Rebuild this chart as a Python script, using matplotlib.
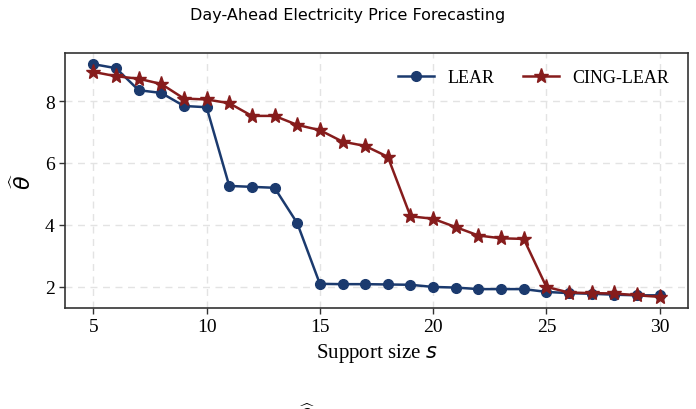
import matplotlib
matplotlib.use("Agg")
import matplotlib.pyplot as plt

support = list(range(5, 31))
lear = [9.19, 9.06, 8.35, 8.26, 7.84, 7.80, 5.26, 5.23, 5.20, 4.06,
        2.10, 2.09, 2.09, 2.08, 2.07, 2.00, 1.98, 1.93, 1.93, 1.93,
        1.84, 1.80, 1.78, 1.75, 1.73, 1.73]
cing_lear = [8.94, 8.80, 8.72, 8.55, 8.08, 8.05, 7.93, 7.52, 7.52, 7.23,
             7.06, 6.69, 6.55, 6.20, 4.28, 4.20, 3.93, 3.66, 3.57, 3.55,
             2.00, 1.82, 1.80, 1.79, 1.73, 1.68]
title = "Day-Ahead Electricity Price Forecasting"
xticks = [5, 10, 15, 20, 25, 30]
yticks = [2, 4, 6, 8]

plt.rcParams['font.family'] = ['Liberation Serif', 'DejaVu Serif']
plt.rcParams['mathtext.fontset'] = 'dejavusans'

fig = plt.figure(figsize=(6.96, 4.10), dpi=100)
ax = fig.add_axes([0.0934, 0.2463, 0.8951, 0.622])

blue = "#1b3a6e"
red = "#861c1c"
ax.plot(support, lear, color=blue, marker='o', markersize=7, linewidth=1.8, label="LEAR", zorder=3)
ax.plot(support, cing_lear, color=red, marker='*', markersize=11, linewidth=1.8, label="CING-LEAR", zorder=3)

ax.set_xticks(xticks)
ax.set_yticks(yticks)
ax.set_xlim(3.75, 31.25)
ax.set_ylim(1.32, 9.55)
ax.tick_params(labelsize=14, length=4, width=1.0, color="#333333")
ax.grid(True, linestyle=(0, (5, 4)), color="#e3e3e3", linewidth=1.0)
ax.set_axisbelow(True)
for s in ax.spines.values():
    s.set_color("#333333")
    s.set_linewidth(1.2)

ax.set_xlabel(r"Support size $s$", fontsize=15, labelpad=4)
ax.set_ylabel(r"$\widehat{\theta}$", fontsize=16, labelpad=6)
ax.legend(loc="upper right", ncol=2, frameon=False, fontsize=13,
          bbox_to_anchor=(0.995, 1.0), columnspacing=1.6, handlelength=2.0,
          handletextpad=0.7)

fig.text(0.5, 0.963, title, ha="center", va="center", fontsize=11.5, family=["DejaVu Sans"])
fig.text(0.44, 0.014, r"$\widehat{\theta}$", ha="center", va="top", fontsize=16)

fig.savefig("out.png", dpi=100)
